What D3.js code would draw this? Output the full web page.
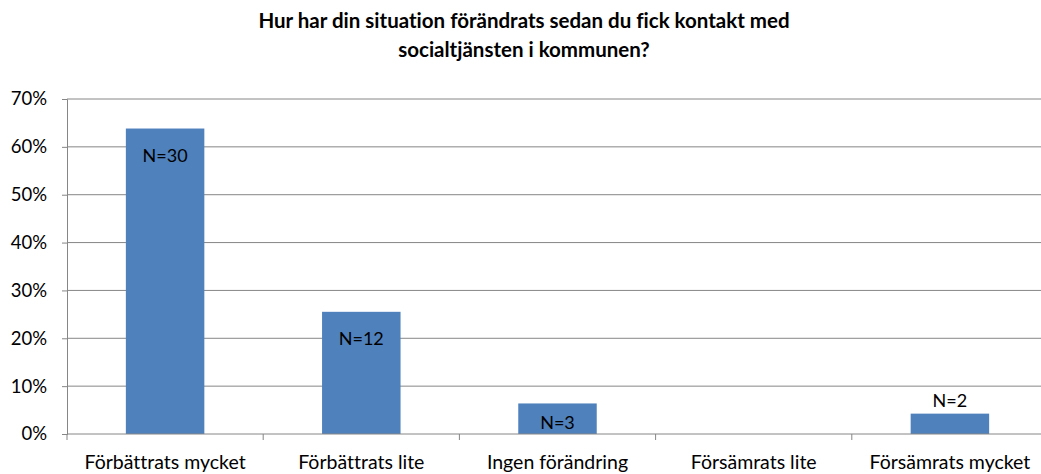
<!DOCTYPE html>
<html>
<head>
<meta charset="utf-8">
<script src="https://cdn.jsdelivr.net/npm/d3@7"></script>
<style>
  body { margin: 0; background: #fff; }
  text { font-family: Lato, "Liberation Sans", sans-serif; fill: #000; font-variant-ligatures: none; }
</style>
</head>
<body>
<svg width="1041" height="474"></svg>
<script>
let categories = ['Förbättrats mycket', 'Förbättrats lite', 'Ingen förändring', 'Försämrats lite', 'Försämrats mycket'];
let counts = [30, 12, 3, 0, 2];
let yTicks = [0, 0.1, 0.2, 0.3, 0.4, 0.5, 0.6, 0.7];
let titleLines = ['Hur har din situation förändrats sedan du fick kontakt med', 'socialtjänsten i kommunen?'];

let total = d3.sum(counts);
let data = categories.map((c, i) => ({ cat: c, n: counts[i], share: counts[i] / total }));

let svg = d3.select('svg');
let plotLeft = 67, plotRight = 1048, plotTop = 99, plotBottom = 434;

let x = d3.scaleBand()
	.domain(categories)
	.range([plotLeft, plotRight])
	.paddingInner(0.6)
	.paddingOuter(0.3);

let y = d3.scaleLinear()
	.domain([0, 0.7])
	.range([plotBottom, plotTop]);

// gridlines
svg.append('g')
	.selectAll('line')
	.data(yTicks.slice(1))
	.join('line')
	.attr('x1', plotLeft)
	.attr('x2', plotRight)
	.attr('y1', d => y(d))
	.attr('y2', d => y(d))
	.attr('stroke', '#868686')
	.attr('stroke-width', 1);

// y axis
let yAxis = svg.append('g')
	.attr('transform', `translate(${plotLeft},0)`)
	.call(d3.axisLeft(y).tickValues(yTicks).tickFormat(d3.format('.0%')).tickSize(5).tickPadding(15));
yAxis.attr('font-family', null).attr('font-size', null);
yAxis.selectAll('path, line').attr('stroke', '#868686');
yAxis.selectAll('text').style('font-size', '18.5px');

// bars
svg.append('g')
	.selectAll('rect')
	.data(data)
	.join('rect')
	.attr('x', d => x(d.cat))
	.attr('width', x.bandwidth())
	.attr('y', d => y(d.share))
	.attr('height', d => y(0) - y(d.share))
	.attr('fill', '#4F81BD');

// x axis, ticks sit between categories
let xAxis = svg.append('g')
	.attr('transform', `translate(0,${plotBottom})`);
xAxis.append('line')
	.attr('x1', plotLeft).attr('x2', plotRight)
	.attr('stroke', '#868686');
let step = x.step();
xAxis.selectAll('line.tick')
	.data(d3.range(categories.length + 1))
	.join('line')
	.attr('class', 'tick')
	.attr('x1', i => plotLeft + i * step)
	.attr('x2', i => plotLeft + i * step)
	.attr('y1', 0).attr('y2', 6)
	.attr('stroke', '#868686');
xAxis.selectAll('text')
	.data(categories)
	.join('text')
	.attr('x', d => x(d) + x.bandwidth() / 2)
	.attr('y', 35)
	.attr('text-anchor', 'middle')
	.style('font-size', '19.5px')
	.text(d => d);

// value labels: inside the bar, above it when the bar is too short
svg.append('g')
	.selectAll('text')
	.data(data.filter(d => d.n > 0))
	.join('text')
	.attr('x', d => x(d.cat) + x.bandwidth() / 2)
	.attr('y', d => {
		let h = y(0) - y(d.share);
		if (h < 25) return y(d.share) - 13;
		return Math.min(y(d.share) + 27, y(0) - 11);
	})
	.attr('dy', '0.35em')
	.attr('text-anchor', 'middle')
	.style('font-size', '18px')
	.text(d => 'N=' + d.n);

// title
svg.append('g')
	.selectAll('text')
	.data(titleLines)
	.join('text')
	.attr('x', 524)
	.attr('y', (d, i) => 28 + i * 29)
	.attr('text-anchor', 'middle')
	.style('font-size', '20.5px')
	.style('font-weight', 'bold')
	.text(d => d);
</script>
</body>
</html>
